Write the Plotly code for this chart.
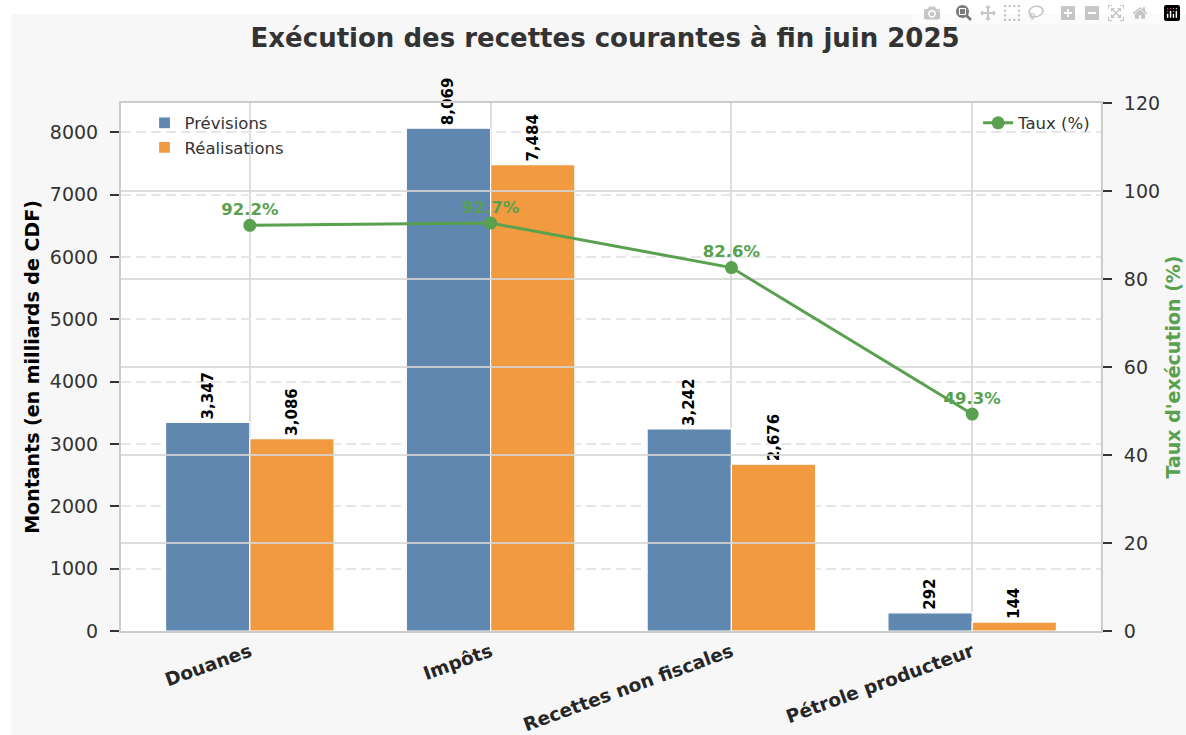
import plotly.graph_objects as go

# ---------------- data ----------------
CATEGORIES = ["Douanes", "Impôts", "Recettes non fiscales", "Pétrole producteur"]
PREVISIONS = [3347, 8069, 3242, 292]
REALISATIONS = [3086, 7484, 2676, 144]
TAUX = [92.2, 92.7, 82.6, 49.3]
Y1_TICKS = [0, 1000, 2000, 3000, 4000, 5000, 6000, 7000, 8000]
Y2_TICKS = [0, 20, 40, 60, 80, 100, 120]

# ---------------- styles ----------------
BLUE = "#5f87af"
ORANGE = "#f29a40"
GREEN = "#59a14f"
FONT = "DejaVu Sans"
BAR_W = 0.35
X = list(range(len(CATEGORIES)))
X_RANGE = [-0.535, len(CATEGORIES) - 1 + 0.535]
Y1_MAX = max(PREVISIONS) * 1.05

fig = go.Figure()

bar_text_font = dict(family=FONT, size=15, color="black", weight="bold")
fig.add_bar(
    x=X, y=PREVISIONS, name="Prévisions", width=BAR_W, offset=-BAR_W,
    marker=dict(color=BLUE, line=dict(color="white", width=1.2)),
    texttemplate="%{y:,.0f}", textposition="outside", textangle=-90,
    textfont=bar_text_font, cliponaxis=False, constraintext="none",
    legend="legend",
)
fig.add_bar(
    x=X, y=REALISATIONS, name="Réalisations", width=BAR_W, offset=0,
    marker=dict(color=ORANGE, line=dict(color="white", width=1.2)),
    texttemplate="%{y:,.0f}", textposition="outside", textangle=-90,
    textfont=bar_text_font, cliponaxis=False, constraintext="none",
    legend="legend",
)

# secondary-axis gridlines drawn above the bars (as in the reference)
gx, gy = [], []
for t in Y2_TICKS[1:-1]:
    gx += [X_RANGE[0], X_RANGE[1], None]
    gy += [t, t, None]
fig.add_scatter(
    x=gx, y=gy, yaxis="y2", mode="lines",
    line=dict(color="rgba(214,214,214,0.85)", width=2),
    hoverinfo="skip", showlegend=False,
)

fig.add_scatter(
    x=X, y=TAUX, yaxis="y2", mode="lines+markers", name="Taux (%)",
    line=dict(color=GREEN, width=3), marker=dict(size=13, color=GREEN),
    cliponaxis=False, legend="legend2",
)
fig.add_scatter(
    x=X, y=TAUX, yaxis="y2", mode="markers+text",
    marker=dict(size=8, opacity=0),
    text=[f"{v:.1f}%" for v in TAUX], textposition="top center",
    textfont=dict(family=FONT, size=16.5, color=GREEN, weight="bold"),
    cliponaxis=False, showlegend=False, hoverinfo="skip",
)

# background panels
L, R, T, B = 121, 85, 103, 104
W, H = 1186, 735
pw, ph = W - L - R, H - T - B
fig.add_shape(
    type="rect", xref="paper", yref="paper", layer="below",
    x0=(11 - L) / pw, x1=(W - L + 2) / pw, y0=-(B + 2) / ph, y1=(H - B - 14) / ph,
    fillcolor="#f7f7f7", line=dict(width=0),
)
fig.add_shape(
    type="rect", xref="x domain", yref="y domain", layer="below",
    x0=0, x1=1, y0=0, y1=1, fillcolor="white", line=dict(width=0),
)

tick_font = dict(family=FONT, size=19, color="#333333")
fig.update_layout(
    width=W, height=H,
    margin=dict(l=L, r=R, t=T, b=B, autoexpand=False),
    paper_bgcolor="white", plot_bgcolor="white",
    barmode="overlay",
    font=dict(family=FONT, color="#333333"),
    title=dict(
        text="<b>Exécution des recettes courantes à fin juin 2025</b>",
        x=0.494, xref="paper", xanchor="center",
        y=1 - 38 / H, yref="container", yanchor="middle",
        font=dict(family=FONT, size=26, color="#333333"),
    ),
    xaxis=dict(
        automargin=False,
        range=X_RANGE, tickvals=X, ticktext=CATEGORIES, tickangle=-20,
        tickfont=dict(family=FONT, size=18.5, color="#262626", weight="bold"),
        ticklabelstandoff=1,
        showgrid=True, gridcolor="#dddddd", gridwidth=1.5,
        showline=True, linecolor="#cccccc", linewidth=2, mirror=True,
        ticks="", zeroline=False,
    ),
    yaxis=dict(
        automargin=False,
        range=[0, Y1_MAX], tickvals=Y1_TICKS,
        ticks="outside", ticklen=9, tickwidth=2, tickcolor="#333333",
        tickfont=tick_font, ticklabelstandoff=8,
        showgrid=True, gridcolor="#e6e6e6", gridwidth=1.5, griddash="10px,5px",
        showline=True, linecolor="#cccccc", linewidth=2, zeroline=False,
        title=dict(text="<b>Montants (en milliards de CDF)</b>",
                   font=dict(family=FONT, size=19, color="black"), standoff=5),
    ),
    yaxis2=dict(
        automargin=False,
        overlaying="y", side="right", range=[0, 120], tickvals=Y2_TICKS,
        ticks="outside", ticklen=9, tickwidth=2, tickcolor="#333333",
        tickfont=tick_font, ticklabelstandoff=8,
        showgrid=False, showline=True, linecolor="#cccccc", linewidth=2,
        zeroline=False,
        title=dict(text="<b>Taux d'exécution (%)</b>",
                   font=dict(family=FONT, size=19, color=GREEN), standoff=8),
    ),
    legend=dict(x=0.024, y=0.995, xanchor="left", yanchor="top",
                bgcolor="rgba(0,0,0,0)", font=dict(family=FONT, size=16.5, color="#333333")),
    legend2=dict(x=0.995, y=0.995, xanchor="right", yanchor="top",
                 bgcolor="rgba(0,0,0,0)", font=dict(family=FONT, size=16.5, color="#333333")),
)

fig.write_html("out.html", post_script="document.body.style.margin='0';")
